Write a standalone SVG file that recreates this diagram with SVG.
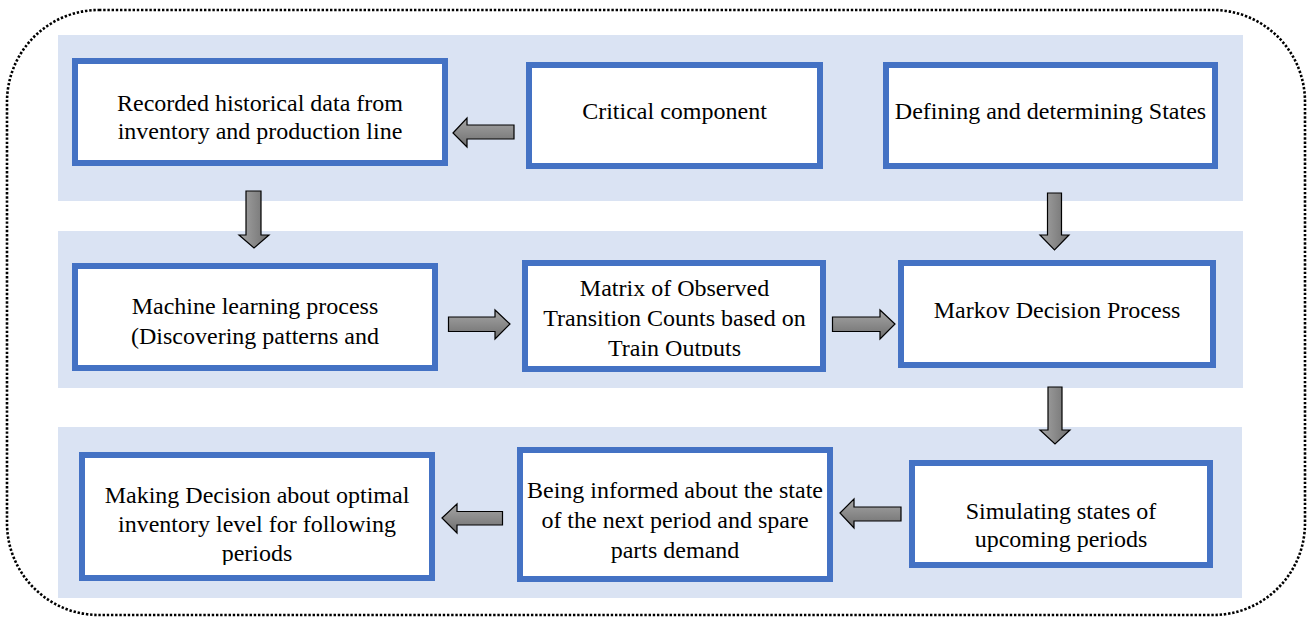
<svg xmlns="http://www.w3.org/2000/svg" width="1307" height="618" viewBox="0 0 1307 618">
<style>
.band{fill:#DAE3F3}
.box{fill:#FFFFFF;stroke:#4472C4;stroke-width:6}
.t{font-family:"Liberation Serif","Times New Roman",serif;font-size:24px;fill:#000;text-anchor:middle}
.arr{fill:url(#g);stroke:#000;stroke-width:1.2;stroke-linejoin:miter}
.arrv{fill:url(#gv);stroke:#000;stroke-width:1.2;stroke-linejoin:miter}
</style>
<defs>
<linearGradient id="g" x1="0" y1="0" x2="0" y2="1"><stop offset="0" stop-color="#A6A6A6"/><stop offset="1" stop-color="#6E6E6E"/></linearGradient>
<linearGradient id="gv" x1="0" y1="0" x2="1" y2="0"><stop offset="0" stop-color="#A6A6A6"/><stop offset="1" stop-color="#6E6E6E"/></linearGradient>
<clipPath id="c5"><rect x="525" y="263" width="298" height="93"/></clipPath>
<clipPath id="c7"><rect x="82" y="455" width="350" height="110"/></clipPath>
</defs>
<rect x="7" y="10" width="1298" height="605" rx="92" ry="92" fill="none" stroke="#000" stroke-width="2.6" stroke-dasharray="2.4 1.8"/>
<g id="bands">
<rect class="band" x="58" y="35" width="1185" height="166"/>
<rect class="band" x="58" y="231" width="1185" height="157"/>
<rect class="band" x="58" y="427" width="1184" height="171"/>
</g>
<g id="n1"><rect class="box" x="75" y="61" width="370" height="102"/>
<text class="t" x="260" y="111">Recorded historical data from</text>
<text class="t" x="260" y="139">inventory and production line</text></g>
<g id="n2"><rect class="box" x="529" y="65" width="291" height="101"/>
<text class="t" x="674.5" y="119">Critical component</text></g>
<g id="n3"><rect class="box" x="886" y="65" width="329" height="101"/>
<text class="t" x="1050.5" y="119">Defining and determining States</text></g>
<g id="n4"><rect class="box" x="75" y="266" width="360" height="102"/>
<text class="t" x="255" y="314">Machine learning process</text>
<text class="t" x="255" y="344">(Discovering patterns and</text></g>
<g id="n5"><rect class="box" x="525" y="263" width="298" height="106"/>
<g clip-path="url(#c5)">
<text class="t" x="674.5" y="296">Matrix of Observed</text>
<text class="t" x="674.5" y="326">Transition Counts based on</text>
<text class="t" x="674.5" y="356">Train Outputs</text></g></g>
<g id="n6"><rect class="box" x="901" y="263" width="312" height="102"/>
<text class="t" x="1057" y="318">Markov Decision Process</text></g>
<g id="n7"><rect class="box" x="82" y="455" width="350" height="123"/>
<g clip-path="url(#c7)">
<text class="t" x="257" y="503">Making Decision about optimal</text>
<text class="t" x="257" y="532">inventory level for following</text>
<text class="t" x="257" y="561">periods</text></g></g>
<g id="n8"><rect class="box" x="520" y="450" width="310" height="129"/>
<text class="t" x="675" y="498">Being informed about the state</text>
<text class="t" x="675" y="527.5">of the next period and spare</text>
<text class="t" x="675" y="557.5">parts demand</text></g>
<g id="n9"><rect class="box" x="912" y="463" width="298" height="102"/>
<text class="t" x="1061" y="519">Simulating states of</text>
<text class="t" x="1061" y="547">upcoming periods</text></g>
<g id="connectors">
<polygon class="arr" points="453,133 467,118 467,125 514,125 514,139 467,139 467,147"/>
<polygon class="arrv" points="246,191 261,191 261,235 269,235 254,248 239,235 246,235"/>
<polygon class="arrv" points="1047.5,193 1061.5,193 1061.5,235 1069,235 1054.5,250 1040,235 1047.5,235"/>
<polygon class="arr" points="448.5,317 495,317 495,310 510,324 495,339 495,331.5 448.5,331.5"/>
<polygon class="arr" points="832.5,317 880,317 880,310 895,324 880,339 880,331.5 832.5,331.5"/>
<polygon class="arrv" points="1048,387 1062,387 1062,430 1070,430 1055,444 1040,430 1048,430"/>
<polygon class="arr" points="840,513 854,499 854,507 901,507 901,521 854,521 854,528"/>
<polygon class="arr" points="442,518 457,504 457,511.5 502.5,511.5 502.5,525 457,525 457,533"/>
</g>
</svg>
